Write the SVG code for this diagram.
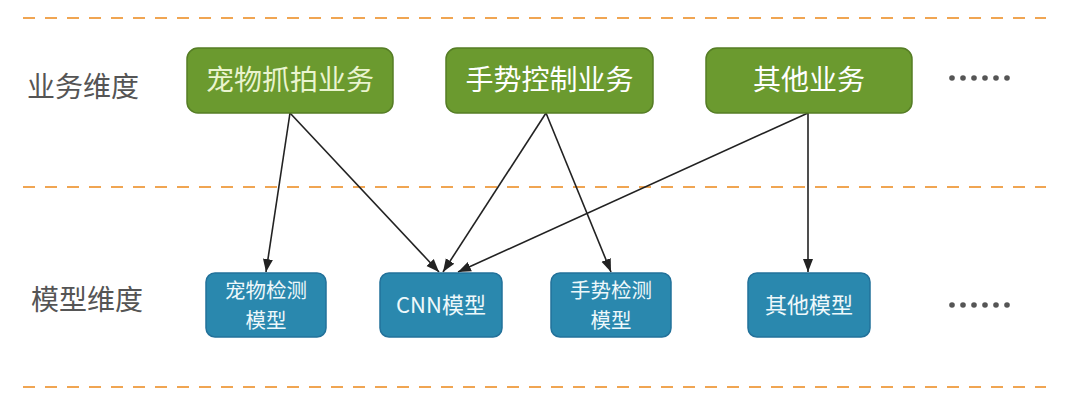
<svg xmlns="http://www.w3.org/2000/svg" width="1080" height="402" viewBox="0 0 1080 402">
<style>
.dash{stroke:#f0a552;stroke-width:2;stroke-dasharray:12 10;fill:none}
.lbl{font-family:"Noto Sans CJK SC","Noto Sans",sans-serif;font-size:28px;fill:#555;text-anchor:start}
.gbox{fill:#6b9a2f;stroke:#557d25;stroke-width:1.5}
.bbox{fill:#2a88ae;stroke:#22719a;stroke-width:1.5}
.gt{font-family:"Noto Sans CJK SC","Noto Sans",sans-serif;font-size:28px;fill:#ffffff;text-anchor:middle}
.bt{font-family:"Noto Sans CJK SC","Noto Sans",sans-serif;font-size:22px;fill:#eef8fb;text-anchor:middle}
.bt2{font-family:"Noto Sans CJK SC","Noto Sans",sans-serif;font-size:20.5px;fill:#eef8fb;text-anchor:middle}
.edge{stroke:#222;stroke-width:1.6;fill:none;marker-end:url(#ah)}
.dot{fill:#555}
</style>
<defs>
<marker id="ah" markerUnits="userSpaceOnUse" markerWidth="13" markerHeight="13" viewBox="0 0 13 13" refX="13" refY="6.5" orient="auto">
<path d="M0,1.5 L13,6.5 L0,11.5 Z" fill="#222"/>
</marker>
</defs>
<rect width="1080" height="402" fill="#ffffff"/>
<g id="guides">
<line class="dash" x1="23" y1="18" x2="1046" y2="18"/>
<line class="dash" x1="23" y1="187" x2="1046" y2="187"/>
<line class="dash" x1="23" y1="387" x2="1046" y2="387"/>
</g>
<g id="row-labels">
<text class="lbl" x="27" y="97">业务维度</text>
<text class="lbl" x="31" y="310">模型维度</text>
</g>
<g id="connectors">
<line class="edge" x1="290" y1="113" x2="266" y2="272"/>
<line class="edge" x1="290" y1="113" x2="439" y2="272"/>
<line class="edge" x1="546" y1="113" x2="443" y2="272"/>
<line class="edge" x1="546" y1="113" x2="611" y2="272"/>
<line class="edge" x1="808" y1="113" x2="458" y2="272"/>
<line class="edge" x1="808" y1="113" x2="808" y2="272"/>
</g>
<g id="biz-pet">
<rect class="gbox" x="187" y="48" width="206" height="65" rx="11"/>
<text class="gt" x="290" y="90" style="fill:#eaf4cf">宠物抓拍业务</text>
</g>
<g id="biz-gesture">
<rect class="gbox" x="446" y="48" width="207" height="65" rx="11"/>
<text class="gt" x="549.5" y="90">手势控制业务</text>
</g>
<g id="biz-other">
<rect class="gbox" x="706" y="48" width="206" height="65" rx="11"/>
<text class="gt" x="809" y="90">其他业务</text>
</g>
<g id="biz-more">
<circle class="dot" cx="952" cy="78" r="2.8"/>
<circle class="dot" cx="963" cy="78" r="2.8"/>
<circle class="dot" cx="974" cy="78" r="2.8"/>
<circle class="dot" cx="985" cy="78" r="2.8"/>
<circle class="dot" cx="996" cy="78" r="2.8"/>
<circle class="dot" cx="1007" cy="78" r="2.8"/>
</g>
<g id="model-pet">
<rect class="bbox" x="206" y="273" width="120" height="64" rx="9"/>
<text class="bt2" x="266" y="298"><tspan x="266" y="298">宠物检测</tspan><tspan x="266" y="328">模型</tspan></text>
</g>
<g id="model-cnn">
<rect class="bbox" x="380" y="273" width="122" height="64" rx="9"/>
<text class="bt" x="441" y="313">CNN模型</text>
</g>
<g id="model-gesture">
<rect class="bbox" x="551" y="273" width="120" height="64" rx="9"/>
<text class="bt2" x="611" y="298"><tspan x="611" y="298">手势检测</tspan><tspan x="611" y="328">模型</tspan></text>
</g>
<g id="model-other">
<rect class="bbox" x="748" y="273" width="122" height="64" rx="9"/>
<text class="bt" x="809" y="313">其他模型</text>
</g>
<g id="model-more">
<circle class="dot" cx="952" cy="305" r="2.8"/>
<circle class="dot" cx="963" cy="305" r="2.8"/>
<circle class="dot" cx="974" cy="305" r="2.8"/>
<circle class="dot" cx="985" cy="305" r="2.8"/>
<circle class="dot" cx="996" cy="305" r="2.8"/>
<circle class="dot" cx="1007" cy="305" r="2.8"/>
</g>
</svg>
